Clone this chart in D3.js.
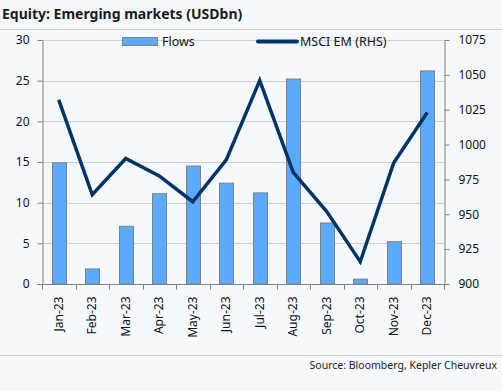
<!DOCTYPE html>
<html><head><meta charset="utf-8">
<script src="https://cdn.jsdelivr.net/npm/d3@7"></script>
<style>body{margin:0;background:#f5f9fd;}svg{display:block;font-family:"Noto Sans",sans-serif;}</style>
</head><body>
<script>
const months = ["Jan-23","Feb-23","Mar-23","Apr-23","May-23","Jun-23","Jul-23","Aug-23","Sep-23","Oct-23","Nov-23","Dec-23"];
const flows = [14.9,1.85,7.1,11.1,14.5,12.4,11.2,25.2,7.5,0.6,5.2,26.2];
const msci = [1032,964,990,977.5,959,989,1046,980,952,916,987,1023];
const leftTicks = [0,5,10,15,20,25,30];
const rightTicks = [900,925,950,975,1000,1025,1050,1075];

const W=502,H=391;
const svg=d3.select("body").append("svg").attr("width",W).attr("height",H);
svg.append("rect").attr("width",W).attr("height",H).attr("fill","#f5f9fd");
const m={l:42,r:444,t:40,b:284};
const x=d3.scaleBand().domain(months).range([m.l,m.r]).paddingInner(0.58).paddingOuter(0.29);
const xb=d3.scaleBand().domain(months).range([m.l,m.r]);
const yL=d3.scaleLinear().domain([0,30]).range([m.b,m.t]);
const yR=d3.scaleLinear().domain([900,1075]).range([m.b,m.t]);

// title
svg.append("text").attr("x",2).attr("y",19).attr("font-size",14).attr("font-weight","bold").attr("fill","#1a1a1a").text("Equity: Emerging markets (USDbn)");
svg.append("line").attr("x1",0).attr("x2",W).attr("y1",29.5).attr("y2",29.5).attr("stroke","#c8cdd2").attr("stroke-width",1);
svg.append("line").attr("x1",0).attr("x2",W).attr("y1",355.5).attr("y2",355.5).attr("stroke","#c8cdd2").attr("stroke-width",1);
svg.append("text").attr("x",497).attr("y",369).attr("text-anchor","end").attr("font-size",10.5).attr("fill","#222").text("Source: Bloomberg, Kepler Cheuvreux");

// gridlines
svg.append("g").selectAll("line").data(leftTicks.slice(1)).join("line")
 .attr("x1",m.l).attr("x2",m.r).attr("y1",d=>Math.round(yL(d))+0.5).attr("y2",d=>Math.round(yL(d))+0.5)
 .attr("stroke","#d0d0d0");

// bars
svg.append("g").selectAll("rect").data(flows).join("rect")
 .attr("x",(d,i)=>Math.round(x(months[i]))+0.5).attr("width",Math.round(x.bandwidth()))
 .attr("y",d=>yL(d)).attr("height",d=>yL(0)-yL(d))
 .attr("fill","#5aabff").attr("stroke","#808080").attr("stroke-width",1);

// line
svg.append("path").datum(msci).attr("fill","none").attr("stroke","#003366").attr("stroke-width",3.5)
 .attr("stroke-linejoin","miter")
 .attr("d",d3.line().x((d,i)=>xb(months[i])+xb.bandwidth()/2).y(d=>yR(d)));

// axes
const axStyle=g=>{g.selectAll("path,line").attr("stroke","#808080");g.selectAll("text").attr("font-size",12).attr("fill","#111").attr("font-family","Noto Sans, sans-serif");};
svg.append("g").attr("transform",`translate(${m.l+0.5},0)`)
 .call(d3.axisLeft(yL).tickValues(leftTicks).tickSize(5).tickSizeOuter(0).tickPadding(8)).call(axStyle);
svg.append("g").attr("transform",`translate(${m.r+0.5},0)`)
 .call(d3.axisRight(yR).tickValues(rightTicks).tickFormat(d3.format("d")).tickSize(5).tickSizeOuter(0).tickPadding(9)).call(axStyle);
const xa=svg.append("g").attr("transform",`translate(0,${m.b+0.5})`);
xa.append("line").attr("x1",m.l-5).attr("x2",m.r+5).attr("stroke","#808080");
xa.selectAll(".t").data(d3.range(13)).join("line").attr("x1",i=>Math.round(m.l+i*xb.bandwidth())+0.5).attr("x2",i=>Math.round(m.l+i*xb.bandwidth())+0.5)
 .attr("y1",0).attr("y2",5).attr("stroke","#808080");
xa.selectAll("text").data(months).join("text")
 .attr("transform",d=>`translate(${xb(d)+xb.bandwidth()/2+4},12) rotate(-90)`)
 .attr("text-anchor","end").attr("font-size",12).attr("fill","#111").text(d=>d);

// legend
const lg=svg.append("g");
lg.append("rect").attr("x",122.5).attr("y",37.5).attr("width",35).attr("height",8).attr("fill","#5aabff").attr("stroke","#808080");
lg.append("text").attr("x",162).attr("y",46).attr("font-size",12.5).attr("fill","#111").text("Flows");
lg.append("line").attr("x1",258).attr("x2",297).attr("y1",41.5).attr("y2",41.5).attr("stroke","#003366").attr("stroke-width",4).attr("stroke-linecap","round");
lg.append("text").attr("x",300).attr("y",46).attr("font-size",12.5).attr("fill","#111").text("MSCI EM (RHS)");
</script>
</body></html>
